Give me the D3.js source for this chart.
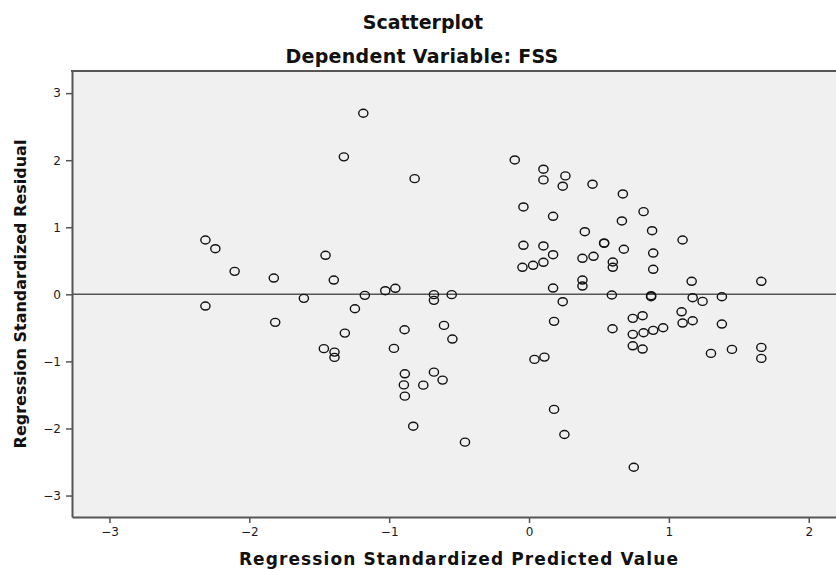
<!DOCTYPE html>
<html>
<head>
<meta charset="utf-8">
<script src="https://cdn.jsdelivr.net/npm/d3@7"></script>
<style>
  body { margin: 0; background: #fff; }
  text { font-family: "DejaVu Sans", sans-serif; }
  .title { font-size: 19px; font-weight: bold; fill: #111; }
  .axis-label { font-size: 17px; font-weight: bold; fill: #111; }
</style>
</head>
<body>
<div id="chart"></div>
<script>
// predicted (x) and residual (y), standardized
var predicted = [
  -1.185, -1.324, -0.818, -2.314, -2.243, -2.105, -1.825, -1.455, -1.396, -1.028,
  -0.956, -1.174, -1.610, -2.314, -1.815, -1.245, -1.317, -0.890, -1.467, -1.391,
  -1.391, -0.966, -0.888, -0.895, -0.888, -0.828, -0.680, -0.680, -0.553, -0.608,
  -0.548, -0.756, -0.680, -0.618, -0.458,
  -0.102, 0.103, 0.103, 0.260, 0.241, 0.454, 0.671, -0.040, 0.172, 0.819,
  0.664, 0.399, 0.880, 1.098, 0.537, 0.537, -0.040, 0.103, 0.172, 0.678,
  0.888, 0.382, 0.461, 0.599, 0.599, 0.888, -0.047, 0.029, 0.103, 0.382,
  0.382, 0.172, 1.163, 1.661, 0.592, 0.873, 0.873, 0.241, 1.170, 1.241,
  1.379, 0.179, 0.597, 0.742, 0.812, 0.742, 0.819, 0.888, 0.959, 0.742,
  0.812, 1.091, 1.098, 1.170, 1.379, 1.301, 1.451, 1.661, 1.661, 0.039,
  0.110, 0.179, 0.253, 0.749
];
var residual = [
  2.700, 2.050, 1.725, 0.810, 0.680, 0.343, 0.243, 0.582, 0.213, 0.054,
  0.090, -0.015, -0.060, -0.175, -0.418, -0.215, -0.578, -0.528, -0.810, -0.861,
  -0.940, -0.806, -1.185, -1.350, -1.518, -1.966, -0.005, -0.090, -0.005, -0.463,
  -0.667, -1.354, -1.160, -1.279, -2.204,
  2.004, 1.866, 1.706, 1.766, 1.612, 1.642, 1.497, 1.303, 1.164, 1.233,
  1.094, 0.934, 0.949, 0.810, 0.766, 0.760, 0.731, 0.721, 0.591, 0.672,
  0.616, 0.537, 0.567, 0.482, 0.403, 0.373, 0.403, 0.433, 0.478, 0.213,
  0.124, 0.094, 0.194, 0.194, -0.010, -0.020, -0.035, -0.110, -0.050, -0.105,
  -0.036, -0.403, -0.513, -0.358, -0.319, -0.597, -0.573, -0.537, -0.498, -0.767,
  -0.816, -0.260, -0.428, -0.394, -0.443, -0.881, -0.821, -0.791, -0.955, -0.970,
  -0.936, -1.716, -2.090, -2.578
];
var xTicks = [-3, -2, -1, 0, 1, 2];
var yTicks = [-3, -2, -1, 0, 1, 2, 3];

var points = predicted.map(function (p, i) { return {x: p, y: residual[i]}; });

var width = 836,
    height = 569,
    plotLeft = 72,
    plotTop = 71,
    plotRight = 836,
    plotBottom = 517;

var svg = d3.select('#chart')
    .append('svg')
    .attr('width', width)
    .attr('height', height);

var x = d3.scaleLinear().domain([-3.268, 2.195]).range([plotLeft, plotRight]);
var y = d3.scaleLinear().domain([-3.32, 3.33]).range([plotBottom, plotTop]);

svg.append('rect')
    .attr('x', plotLeft)
    .attr('y', plotTop)
    .attr('width', plotRight - plotLeft)
    .attr('height', plotBottom - plotTop)
    .attr('fill', '#f0f0f0');

// reference line at zero
svg.append('line')
    .attr('x1', plotLeft)
    .attr('x2', plotRight)
    .attr('y1', y(0))
    .attr('y2', y(0))
    .attr('stroke', '#555')
    .attr('stroke-width', 1.5);

// markers are a bit wider than tall in the original
svg.append('g')
    .selectAll('ellipse')
    .data(points)
    .enter()
    .append('ellipse')
    .attr('cx', function (d) { return x(d.x); })
    .attr('cy', function (d) { return y(d.y); })
    .attr('rx', 4.6)
    .attr('ry', 4)
    .attr('fill', 'none')
    .attr('stroke', '#111')
    .attr('stroke-width', 1.4);

function minus(d) { return d < 0 ? '\u2212' + Math.abs(d) : String(d); }

var xAxis = svg.append('g')
    .attr('transform', 'translate(0,' + plotBottom + ')')
    .call(d3.axisBottom(x).tickValues(xTicks).tickSizeInner(6).tickSizeOuter(0).tickPadding(4).tickFormat(minus));

var yAxis = svg.append('g')
    .attr('transform', 'translate(' + plotLeft + ',0)')
    .call(d3.axisLeft(y).tickValues(yTicks).tickSizeInner(6).tickSizeOuter(0).tickPadding(5).tickFormat(minus));

[xAxis, yAxis].forEach(function (a) {
    a.select('.domain').attr('stroke', '#555').attr('stroke-width', 2);
    a.selectAll('.tick line').attr('stroke', '#555').attr('stroke-width', 1.5);
    a.selectAll('.tick text')
        .attr('font-family', '"DejaVu Sans", sans-serif')
        .attr('font-size', 12)
        .attr('fill', '#1a1a2a');
});

// top border
svg.append('line')
    .attr('x1', plotLeft - 1)
    .attr('x2', plotRight)
    .attr('y1', plotTop)
    .attr('y2', plotTop)
    .attr('stroke', '#555')
    .attr('stroke-width', 2);

svg.append('text')
    .attr('class', 'title')
    .attr('x', 423)
    .attr('y', 29)
    .attr('text-anchor', 'middle')
    .text('Scatterplot');

svg.append('text')
    .attr('class', 'title')
    .attr('x', 422)
    .attr('y', 63)
    .attr('text-anchor', 'middle')
    .style('letter-spacing', '0.3px')
    .text('Dependent Variable: FSS');

svg.append('text')
    .attr('class', 'axis-label')
    .attr('x', 459)
    .attr('y', 565)
    .attr('text-anchor', 'middle')
    .style('letter-spacing', '1.1px')
    .text('Regression Standardized Predicted Value');

svg.append('text')
    .attr('class', 'axis-label')
    .attr('transform', 'translate(26,' + 294 + ') rotate(-90)')
    .attr('text-anchor', 'middle')
    .style('font-size', '16px')
    .text('Regression Standardized Residual');
</script>
</body>
</html>
